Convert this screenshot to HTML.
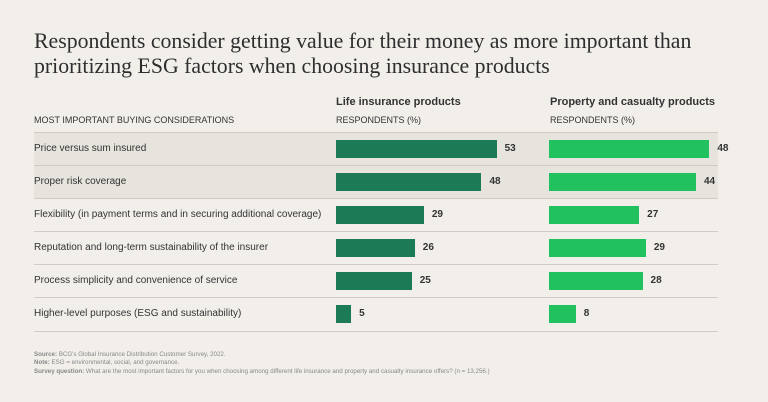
<!DOCTYPE html>
<html><head><meta charset="utf-8"><style>
body{margin:0;background:#f2efeb;font-family:"Liberation Sans",sans-serif;color:#333;}
#root{position:relative;width:768px;height:402px;overflow:hidden;}
.t{position:absolute;font-family:"Liberation Serif",serif;font-size:21.8px;left:34px;color:#2e2e2e;line-height:25px;}
.a{position:absolute;white-space:nowrap;}
</style></head><body><div id="root">
<div class="t" style="top:29px">Respondents consider getting value for their money as more important than<br>prioritizing ESG factors when choosing insurance products</div>
<div class="a" style="left:336px;top:96px;font-size:11px;font-weight:bold">Life insurance products</div>
<div class="a" style="left:550px;top:96px;font-size:11px;font-weight:bold">Property and casualty products</div>
<div class="a" style="left:34px;top:115px;font-size:9px">MOST IMPORTANT BUYING CONSIDERATIONS</div>
<div class="a" style="left:336px;top:115px;font-size:9px">RESPONDENTS (%)</div>
<div class="a" style="left:550px;top:115px;font-size:9px">RESPONDENTS (%)</div>
<div class="a" style="left:34px;top:351px;font-size:6.2px;color:#888;line-height:8.3px"><b>Source:</b> BCG's Global Insurance Distribution Customer Survey, 2022.<br><b>Note:</b> ESG = environmental, social, and governance.<br><b>Survey question:</b> What are the most important factors for you when choosing among different life insurance and property and casualty insurance offers? (n = 13,256.)</div>
</div>
<script>
const categories=["Price versus sum insured","Proper risk coverage","Flexibility (in payment terms and in securing additional coverage)","Reputation and long-term sustainability of the insurer","Process simplicity and convenience of service","Higher-level purposes (ESG and sustainability)"];
const lifeValues=[53,48,29,26,25,5];
const pcValues=[48,44,27,29,28,8];
const root=document.getElementById('root');
const top0=132,rowH=33;
const xLife=v=>v*3.03, xPC=v=>v*3.34;
categories.forEach((c,i)=>{
  const y=top0+i*rowH;
  const row=document.createElement('div');
  
  
  row.style.cssText=`position:absolute;left:34px;width:684px;top:${y}px;height:${rowH}px;border-top:1px solid #cfcbc6;background:${i<2?'#e7e3dd':'transparent'};`+(i==categories.length-1?'border-bottom:1px solid #cfcbc6;':'');
  root.appendChild(row);
  const lab=document.createElement('div');
  
  
  lab.className='a';lab.style.cssText=`left:34px;top:${y+11}px;font-size:10px;`;
  lab.textContent=c;root.appendChild(lab);
  [[lifeValues[i],336,xLife,'#1c7a56','life'],[pcValues[i],549,xPC,'#22c160','pc']].forEach(([v,x0,f,col,k])=>{
    const b=document.createElement('div');
    
    
    b.style.cssText=`position:absolute;left:${x0}px;top:${y+8}px;height:18px;width:${f(v)}px;background:${col};`;
    root.appendChild(b);
    const t=document.createElement('div');
    
    
    t.className='a';t.style.cssText=`left:${x0+f(v)+8}px;top:${y+11}px;font-size:10px;font-weight:bold;`;
    t.textContent=v;root.appendChild(t);
  });
});
</script></body></html>
